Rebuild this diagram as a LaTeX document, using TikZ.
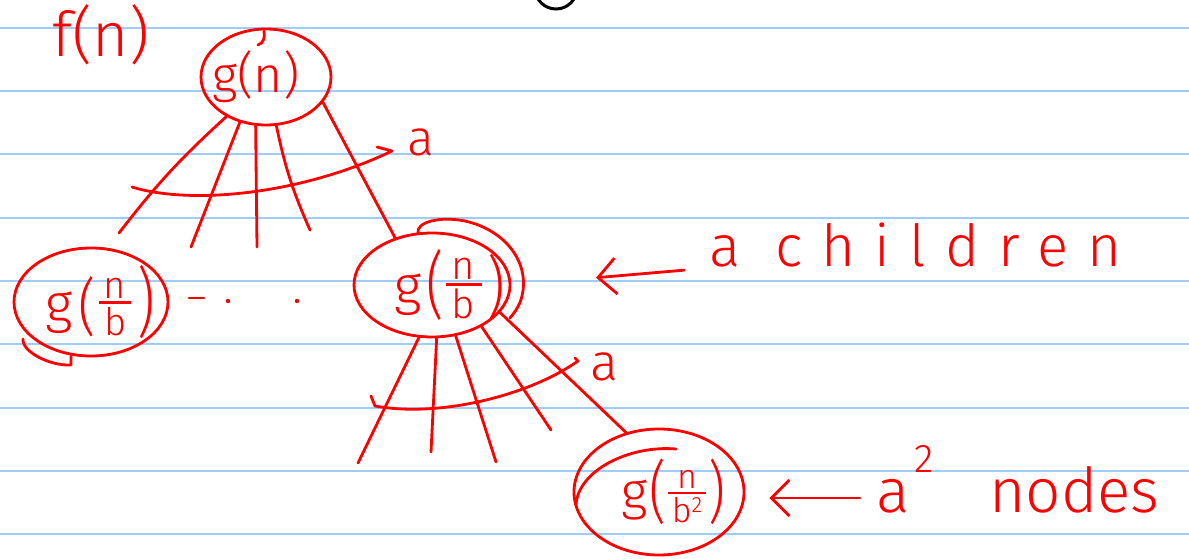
\documentclass[tikz,border=0pt]{standalone}
\usepackage{graphicx}
\usepackage{fontspec}
\setmainfont{Fira Sans Light}
\usetikzlibrary{arrows.meta,shapes.geometric}
\definecolor{ink}{RGB}{255,0,0}
\definecolor{ruling}{RGB}{160,204,250}
% hand-style stacked fraction: #1 size, #2 bar width, #3 numerator, #4 denominator, #5 drop
\newcommand\handfrac[5]{\raisebox{-#5}{\fontsize{#1}{#1}\selectfont\shortstack{#3\\\rule{#2}{2.8pt}\\#4}}}
% tall thin parenthesis: #1 vertical stretch, #2 glyph
\newcommand\tallpar[2]{\raisebox{-6pt}{\scalebox{1}[#1]{#2}}}
\begin{document}
\begin{tikzpicture}[x=1pt,y=-1pt,
  pen/.style={draw=ink,line width=2.8pt,line cap=round,line join=round},
  bubble/.style={ellipse,pen,inner sep=0pt,text=ink},
  hand/.style={text=ink,inner sep=0pt},
  handarrow/.style={pen,-{Straight Barb[length=18pt,width=36pt]}},
  ruleline/.style={draw=ruling,line width=2pt},
  ]
\fill[white] (0,0) rectangle (1189,559);
\useasboundingbox (0,0) rectangle (1189,559);
% ruled paper
\foreach \k in {0,...,8} \draw[ruleline] (0,{28+63.25*\k}) -- (1189,{28+63.25*\k});
\begin{scope}
  \clip (0,0) rectangle (1189,559);
  \draw[black,line width=3pt] (556,-12) circle[radius=21];
\end{scope}

% nodes
\node[hand,font=\fontsize{62}{64}\selectfont] (fn) at (101,35) {f(n)};
\node[bubble,minimum width=130pt,minimum height=96pt,font=\fontsize{50}{52}\selectfont] (root) at (266,77) {\kern-20pt g(n)};
\node[bubble,minimum width=154pt,minimum height=108pt,font=\fontsize{54}{56}\selectfont] (lc) at (91,302)
  {g\kern6pt\tallpar{1.15}{(}\kern3pt\handfrac{38pt}{32pt}{n}{b}{13pt}\kern6pt\tallpar{1.4}{)}\kern-18pt};
\node[bubble,minimum width=156pt,minimum height=104pt,font=\fontsize{54}{56}\selectfont] (rc) at (432,285)
  {g\kern4pt\tallpar{1.35}{(}\kern2pt\handfrac{40pt}{36pt}{n}{b}{14pt}\kern6pt\tallpar{1.25}{)}\kern-36pt};
\node[bubble,minimum width=170pt,minimum height=126pt,font=\fontsize{52}{54}\selectfont] (a2) at (659,492)
  {g\kern2pt\tallpar{1.3}{(}\kern2pt\handfrac{34pt}{38pt}{n}{b\raisebox{10pt}{\fontsize{22}{22}\selectfont 2}}{13pt}\kern2pt\tallpar{1.3}{)}\kern-28pt};

% extra hand-drawn loops of the bubbles
\draw[pen] (258,45) .. controls (264,43) and (265,37) .. (264,31);
\draw[pen] (23,339) .. controls (22,352) and (50,366) .. (71,365) -- (71,356);
\draw[pen] (418,233) .. controls (416,222) and (440,216) .. (465,221)
  .. controls (505,230) and (530,262) .. (522,296) .. controls (520,305) and (515,312) .. (510,318);
\draw[pen] (676,449) .. controls (630,445) and (578,470) .. (576,505);

% edges from the root
\coordinate (e1) at (119,233);
\coordinate (e2) at (191,247);
\coordinate (e3) at (257,247);
\coordinate (e4) at (310,230);
\draw[pen] (root.225) to[bend right=5] (e1);
\draw[pen] (root.240) -- (e2);
\draw[pen] (root.258) -- (e3);
\draw[pen] (root.282) to[bend right=6] (e4);
\draw[pen] (root.336) -- (rc.128);

% edges from the right child
\coordinate (f1) at (358,463);
\coordinate (f2) at (431,452);
\coordinate (f3) at (496,462);
\coordinate (f4) at (551,430);
\draw[pen] (rc.256) -- (f1);
\draw[pen] (rc.275) -- (f2);
\draw[pen] (rc.295) -- (f3);
\draw[pen] (rc.320) -- (f4);
\draw[pen] (rc.338) -- (a2.119);

% arcs spanning the children
\draw[pen] (132,187) .. controls (190,205) and (300,195) .. (392,151) -- (377,147);
\node[hand,font=\fontsize{50}{52}\selectfont] (la1) at (421,142) {a};
\draw[pen] (371,396) -- (375,406) .. controls (440,418) and (530,395) .. (578,361) -- (575,358);
\node[hand,font=\fontsize{52}{54}\selectfont] (la2) at (604,367) {a};

% ellipsis between children
\draw[pen] (189,298) -- (204,298);
\fill[ink] (228,301) circle[radius=2.2];
\fill[ink] (297,301) circle[radius=2.2];

% annotations
\node[hand,anchor=base west,font=\fontsize{58}{60}\selectfont\addfontfeature{LetterSpace=33}] (lab1) at (709,266) {a children};
\node[hand,anchor=base west,font=\fontsize{62}{64}\selectfont] (lab2) at (876,512)
  {a\kern5pt\raisebox{40pt}{\fontsize{40}{42}\selectfont 2}\hspace{56pt}nodes};
\draw[handarrow,shorten <=25pt,shorten >=85pt] ([yshift=-2pt]lab1.base west) -- (rc.east);
\draw[handarrow,shorten <=16pt,shorten >=24pt] ([yshift=14pt]lab2.base west) -- ([yshift=-6pt]a2.east);
\end{tikzpicture}
\end{document}
